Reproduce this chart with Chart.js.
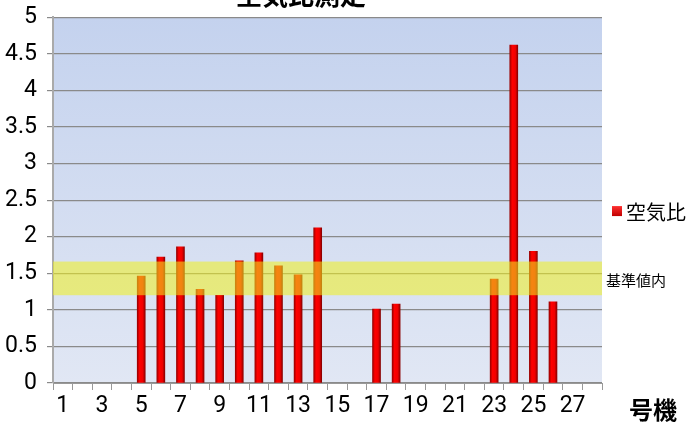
<!DOCTYPE html>
<html>
<head>
<meta charset="utf-8">
<script src="https://cdn.jsdelivr.net/npm/chart.js@4"></script>
<style>
  html, body { margin: 0; padding: 0; background: #fff; }
  #wrap { width: 691px; height: 426px; overflow: hidden; position: relative; }
  #wrap canvas { position: absolute; top: -20px; left: 0; }
</style>
</head>
<body>
<div id="wrap"><canvas id="chart" width="691" height="446"></canvas></div>
<script>
// Unit numbers (号機) 1..28
const units = Array.from({ length: 28 }, (_, i) => String(i + 1));

// Air ratio per unit (null = not measured)
const airRatio = [
  null, null, null, null, 1.46, 1.72, 1.86, 1.28, 1.20, 1.67,
  1.78, 1.60, 1.48, 2.12, null, null, 1.01, 1.08, null, null,
  null, null, 1.42, 4.62, 1.80, 1.11, null, null
];

// Reference band (基準値内)
const bandRange = [1.2, 1.66];

const narrowFont = '"Liberation Sans Narrow", "Roboto", "Liberation Sans", sans-serif';
const jpFont = '"Noto Sans CJK JP", "Noto Sans", sans-serif';

// Plot background gradient
const plotBackground = {
  id: 'plotBackground',
  beforeDraw(chart) {
    const { ctx, chartArea: a } = chart;
    const g = ctx.createLinearGradient(0, a.top, 0, a.bottom);
    g.addColorStop(0, '#c4d2ee');
    g.addColorStop(1, '#e1e7f4');
    ctx.save();
    ctx.fillStyle = g;
    ctx.fillRect(a.left, a.top, a.right - a.left, a.bottom - a.top);
    ctx.restore();
  }
};

// Yellow band over the bars + its label + the legend
const bandAndLegend = {
  id: 'bandAndLegend',
  afterDatasetsDraw(chart) {
    const { ctx, chartArea: a, scales: { y } } = chart;
    const top = y.getPixelForValue(bandRange[1]);
    const bottom = y.getPixelForValue(bandRange[0]);
    ctx.save();
    ctx.fillStyle = 'rgba(240, 240, 30, 0.55)';
    ctx.fillRect(a.left, top, a.right - a.left, bottom - top);

    ctx.fillStyle = '#000';
    ctx.font = '15px ' + jpFont;
    ctx.textBaseline = 'middle';
    ctx.textAlign = 'left';
    ctx.fillText('基準値内', a.right + 4, (top + bottom) / 2 + 2);

    // legend
    const ly = y.getPixelForValue(2.35);
    const g = ctx.createLinearGradient(0, ly - 5, 0, ly + 5);
    g.addColorStop(0, '#ff3030');
    g.addColorStop(1, '#c00000');
    ctx.fillStyle = g;
    ctx.fillRect(a.right + 10, ly - 5, 10, 10);
    ctx.fillStyle = '#000';
    ctx.font = '20px ' + jpFont;
    ctx.fillText(chart.data.datasets[0].label, a.right + 24, ly + 1);

    // axis title
    const x = chart.scales.x;
    ctx.font = 'bold 24px ' + jpFont;
    ctx.fillText('号機', a.right + 27, x.bottom - 16);
    ctx.restore();
  }
};

new Chart(document.getElementById('chart').getContext('2d'), {
  type: 'bar',
  data: {
    labels: units,
    datasets: [{
      label: '空気比',
      data: airRatio,
      backgroundColor(c) {
        const chart = c.chart;
        if (!chart.chartArea) return '#e00000';
        const xs = chart.scales.x.getPixelForValue(c.dataIndex);
        const g = chart.ctx.createLinearGradient(xs - 4, 0, xs + 4, 0);
        g.addColorStop(0, '#9a0000');
        g.addColorStop(0.3, '#ff0000');
        g.addColorStop(0.7, '#f00000');
        g.addColorStop(1, '#8a0000');
        return g;
      },
      borderWidth: 0,
      barThickness: 8
    }]
  },
  options: {
    responsive: false,
    animation: false,
    layout: { padding: { left: 0, right: 89, top: 0, bottom: 0 } },
    plugins: {
      legend: { display: false },
      tooltip: { enabled: false },
      title: {
        display: true,
        text: '空気比測定',
        color: '#000',
        font: { family: jpFont, size: 26, weight: 'bold' },
        padding: { top: 0, bottom: 6 }
      }
    },
    scales: {
      x: {
        offset: true,
        afterFit(s) { s.height = 43; },
        grid: {
          offset: true,
          drawOnChartArea: false,
          drawTicks: true,
          tickLength: 7,
          color: '#999'
        },
        border: { color: '#999', width: 1 },
        ticks: {
          autoSkip: false,
          maxRotation: 0,
          padding: 2,
          color: '#000',
          font: { family: narrowFont, size: 23 },
          callback(v, i) { return i % 2 === 0 ? units[i] : ''; }
        }
      },
      y: {
        min: 0,
        max: 5,
        afterFit(s) { s.width = 53; },
        grid: {
          color: '#8a8a8a',
          lineWidth: 1.2,
          drawTicks: true,
          tickLength: 6
        },
        border: { color: '#aaa', width: 2 },
        ticks: {
          stepSize: 0.5,
          padding: 10,
          color: '#000',
          font: { family: narrowFont, size: 23 },
          callback(v) { return String(Math.round(v * 10) / 10); }
        }
      }
    }
  },
  plugins: [plotBackground, bandAndLegend]
});
</script>
</body>
</html>
